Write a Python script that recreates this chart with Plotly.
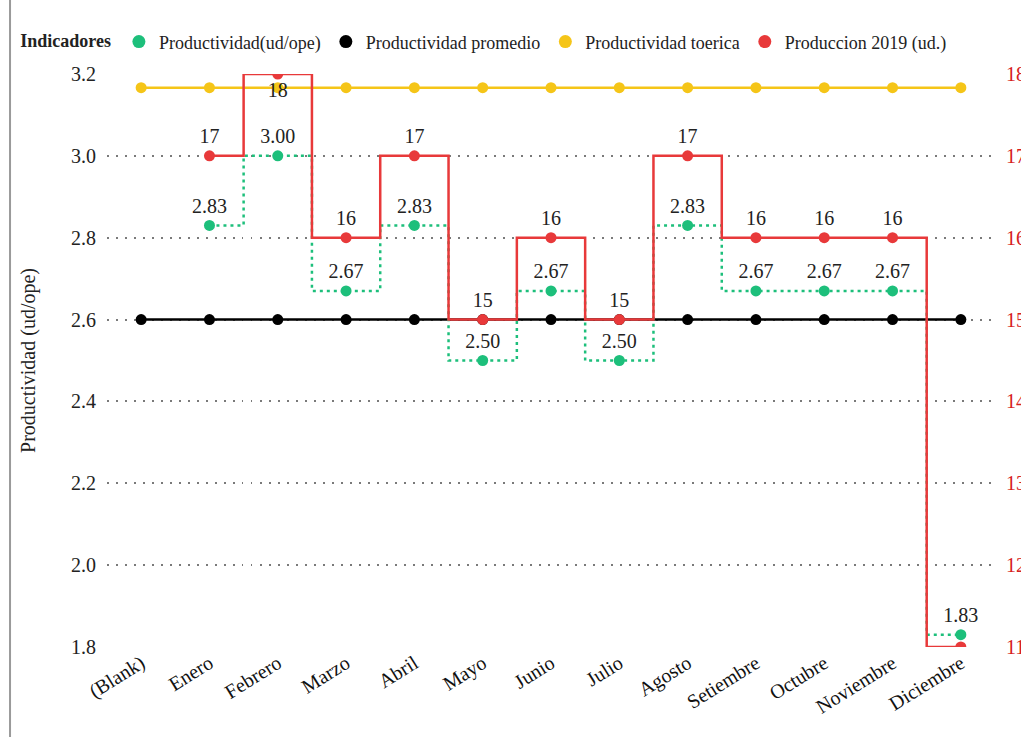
import plotly.graph_objects as go

# Categories (months) and indicator values
meses = ["(Blank)", "Enero", "Febrero", "Marzo", "Abril", "Mayo", "Junio",
         "Julio", "Agosto", "Setiembre", "Octubre", "Noviembre", "Diciembre"]
meses_prod = meses[1:]
productividad = [2.83, 3.00, 2.67, 2.83, 2.50, 2.67, 2.50, 2.83, 2.67, 2.67, 2.67, 1.83]
produccion_2019 = [17, 18, 16, 17, 15, 16, 15, 17, 16, 16, 16, 11]
prod_promedio = [2.6] * len(meses)
prod_teorica = [3.1667] * len(meses)

left_ticks = [1.8, 2.0, 2.2, 2.4, 2.6, 2.8, 3.0, 3.2]
right_ticks = [11, 12, 13, 14, 15, 16, 17, 18]

FONT = "Liberation Serif"
VERDE = "#1dbf7b"
NEGRO = "#000000"
AMARILLO = "#f5c518"
ROJO = "#e8393a"
FS = 20

fig = go.Figure()

# constant reference lines
fig.add_trace(go.Scatter(
    x=meses, y=prod_teorica, mode="lines+markers",
    line=dict(color=AMARILLO, width=2.5), marker=dict(color=AMARILLO, size=11),
    showlegend=False))
fig.add_trace(go.Scatter(
    x=meses, y=prod_promedio, mode="lines+markers",
    line=dict(color=NEGRO, width=2.5), marker=dict(color=NEGRO, size=11),
    showlegend=False))

# productivity per month (stepped, dotted)
fig.add_trace(go.Scatter(
    x=meses_prod, y=productividad, mode="lines+markers+text",
    line=dict(color=VERDE, width=2.5, dash="3px,4px", shape="hvh"),
    marker=dict(color=VERDE, size=11),
    text=[f"{v:.2f}" for v in productividad], textposition="top center",
    textfont=dict(family=FONT, size=FS, color="#222"),
    showlegend=False))

# monthly production on secondary axis (stepped); the lowest month is left unlabelled
pmax, pmin = max(produccion_2019), min(produccion_2019)
pos_text = ["bottom center" if v == pmax else "top center" for v in produccion_2019]
txt_prod = ["" if v == pmin else str(v) for v in produccion_2019]
fig.add_trace(go.Scatter(
    x=meses_prod, y=produccion_2019, yaxis="y2", mode="lines+markers+text",
    line=dict(color=ROJO, width=2.5, shape="hvh"),
    marker=dict(color=ROJO, size=11),
    text=txt_prod, textposition=pos_text,
    textfont=dict(family=FONT, size=FS, color="#222"),
    showlegend=False))

# legend entries (dot only)
for nombre, color in [("Productividad(ud/ope)", VERDE), ("Productividad promedio", NEGRO),
                      ("Productividad toerica", AMARILLO), ("Produccion 2019 (ud.)", ROJO)]:
    fig.add_trace(go.Scatter(x=[None], y=[None], mode="markers", name=nombre,
                             marker=dict(color=color, size=13), showlegend=True))

fig.update_layout(
    width=1021, height=737,
    margin=dict(l=107, r=26, t=74, b=90, autoexpand=False),
    paper_bgcolor="white", plot_bgcolor="white",
    font=dict(family=FONT, size=FS, color="#222"),
    showlegend=True,
    legend=dict(orientation="h", x=-0.1, xanchor="left", y=1.056, yanchor="middle",
                title=dict(text="<b>Indicadores</b>", font=dict(family=FONT, size=18)),
                font=dict(family=FONT, size=18), itemwidth=30,
                tracegroupgap=0, bgcolor="rgba(0,0,0,0)"),
    xaxis=dict(type="category", categoryorder="array", categoryarray=meses,
               range=[-0.5, 12.5], automargin=False,
               tickangle=-32, showgrid=False, showline=False, ticks="",
               tickfont=dict(family=FONT, size=FS, color="#111")),
    yaxis=dict(range=[1.8, 3.2], tickvals=left_ticks, ticktext=[f"{t:.1f}" for t in left_ticks],
               automargin=False,
               showgrid=True, gridcolor="#7a7a7a", griddash="1.5px,7.5px", gridwidth=1.5,
               zeroline=False, showline=False, ticks="", ticklabelstandoff=10,
               tickfont=dict(family=FONT, size=FS, color="#222"),
               title=dict(text="Productividad (ud/ope)", font=dict(family=FONT, size=FS), standoff=30)),
    yaxis2=dict(range=[11, 18], tickvals=right_ticks, overlaying="y", side="right",
                automargin=False,
                showgrid=False, zeroline=False, showline=False, ticks="", ticklabelstandoff=10,
                tickfont=dict(family=FONT, size=FS, color="#d62020")),
)

# chart frame edge on the left
fig.add_shape(type="line", xref="paper", yref="paper",
              x0=-0.1092, x1=-0.1092, y0=-0.16, y1=1.13,
              line=dict(color="#9a9a9a", width=2))

fig.write_html("out.html")
